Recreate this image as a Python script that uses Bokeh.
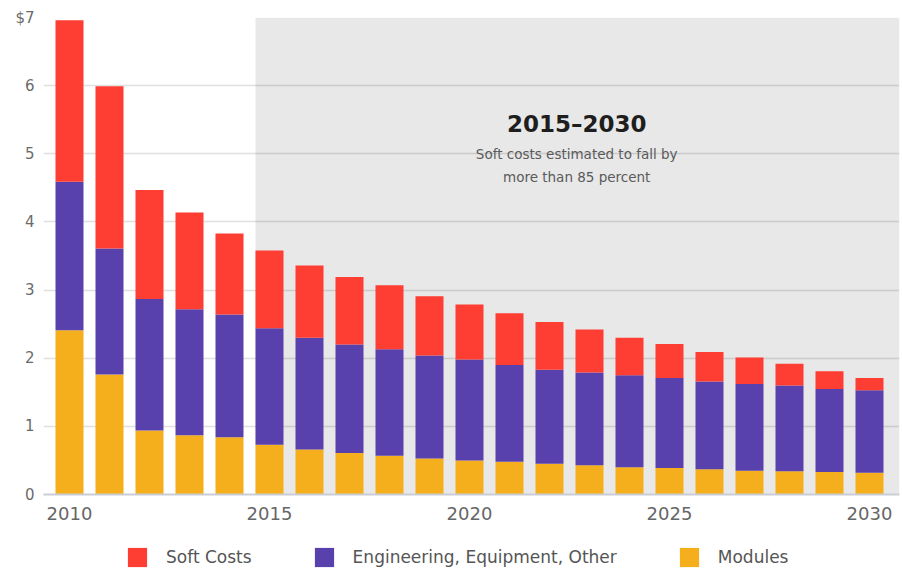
from bokeh.plotting import figure
from bokeh.layouts import column
from bokeh.models import (ColumnDataSource, Range1d, FixedTicker, BoxAnnotation,
                          Label, Legend, LegendItem)
from bokeh.embed import file_html
from bokeh.resources import INLINE

years = list(range(2010, 2031))
modules = [2.41, 1.76, 0.94, 0.87, 0.84, 0.73, 0.66, 0.61, 0.57, 0.53, 0.50,
           0.48, 0.45, 0.43, 0.40, 0.39, 0.37, 0.35, 0.34, 0.33, 0.32]
engineering = [2.18, 1.85, 1.93, 1.85, 1.80, 1.71, 1.64, 1.59, 1.56, 1.51, 1.48,
               1.42, 1.38, 1.36, 1.35, 1.32, 1.29, 1.27, 1.26, 1.22, 1.21]
soft_costs = [2.37, 2.38, 1.60, 1.42, 1.19, 1.14, 1.06, 0.99, 0.94, 0.87, 0.81,
              0.76, 0.70, 0.63, 0.55, 0.50, 0.43, 0.39, 0.32, 0.26, 0.18]
series_names = ["Soft Costs", "Engineering, Equipment, Other", "Modules"]
x_ticks = [2010, 2015, 2020, 2025, 2030]
y_ticks = [0, 1, 2, 3, 4, 5, 6, 7]
highlight_start = 2015
annot_title = "2015\u20132030"
annot_lines = ["Soft costs estimated to fall by", "more than 85 percent"]

RED = "#fe3d33"
PURPLE = "#5840ad"
YELLOW = "#f5ae1c"
COLORS = [RED, PURPLE, YELLOW]
FONT = "DejaVu Sans"

source = ColumnDataSource(dict(
    year=years, modules=modules, engineering=engineering, soft=soft_costs))

p = figure(width=902, height=533, output_backend="svg", toolbar_location=None,
           x_range=Range1d(2009.35, 2030.75), y_range=Range1d(0, 7),
           min_border_left=43, min_border_right=3, min_border_top=17,
           min_border_bottom=39)
p.outline_line_color = None
p.background_fill_color = "white"
p.border_fill_color = "white"

shade = BoxAnnotation(left=highlight_start - 0.35, fill_color="black",
                      fill_alpha=0.09, line_color=None, level="underlay")
p.add_layout(shade)

p.vbar_stack(["modules", "engineering", "soft"], x="year", width=0.7,
             source=source, color=[YELLOW, PURPLE, RED], line_color=None)

p.xgrid.grid_line_color = None
p.ygrid.grid_line_color = "#e0e0e0"
p.ygrid.grid_line_width = 1.5
p.ygrid.ticker = FixedTicker(ticks=y_ticks)

p.xaxis.ticker = FixedTicker(ticks=x_ticks)
p.xaxis.axis_line_color = "#c9cdd6"
p.xaxis.axis_line_width = 2
p.xaxis.major_tick_line_color = None
p.xaxis.minor_tick_line_color = None
p.xaxis.major_tick_out = 0
p.xaxis.major_tick_in = 0
p.xaxis.major_label_text_font = FONT
p.xaxis.major_label_text_font_size = "18px"
p.xaxis.major_label_text_color = "#666666"
p.xaxis.major_label_standoff = 12

p.yaxis.ticker = FixedTicker(ticks=y_ticks)
p.yaxis.major_label_overrides = {7: "$7"}
p.yaxis.axis_line_color = None
p.yaxis.major_tick_line_color = None
p.yaxis.minor_tick_line_color = None
p.yaxis.major_tick_out = 0
p.yaxis.major_tick_in = 0
p.yaxis.major_label_text_font = FONT
p.yaxis.major_label_text_font_size = "15px"
p.yaxis.major_label_text_color = "#6b6b6b"
p.yaxis.major_label_standoff = 9

p.add_layout(Label(x=2022.68, y=5.43, text=annot_title, text_font=FONT,
                   text_font_size="23px", text_font_style="bold",
                   text_color="#1e1e1e", text_align="center",
                   text_baseline="middle"))
for i, line in enumerate(annot_lines):
    p.add_layout(Label(x=2022.68, y=5.0 - i * 0.34, text=line, text_font=FONT,
                       text_font_size="13.5px", text_color="#5a5a5a",
                       text_align="center", text_baseline="middle"))

# legend strip below the chart
lg = figure(width=902, height=38, output_backend="svg", toolbar_location=None,
            x_range=Range1d(0, 1), y_range=Range1d(0, 1),
            min_border_left=0, min_border_right=0, min_border_top=0,
            min_border_bottom=0)
lg.axis.visible = False
lg.grid.visible = False
lg.outline_line_color = None
lg.border_fill_color = "white"
items = []
for name, col in zip(series_names, COLORS):
    r = lg.vbar(x=[-1], top=[-1], width=0.1, color=col, line_color=None)
    items.append(LegendItem(label=name, renderers=[r]))
legend = Legend(items=items, orientation="horizontal", location=(82, 2),
                glyph_width=24, glyph_height=24, label_standoff=17, spacing=60,
                label_text_font=FONT, label_text_font_size="17px",
                label_text_color="#555555", border_line_color=None,
                background_fill_alpha=0, padding=0, margin=0)
lg.add_layout(legend)

layout = column(p, lg, spacing=0)
open("out.html", "w").write(file_html(layout, INLINE))
